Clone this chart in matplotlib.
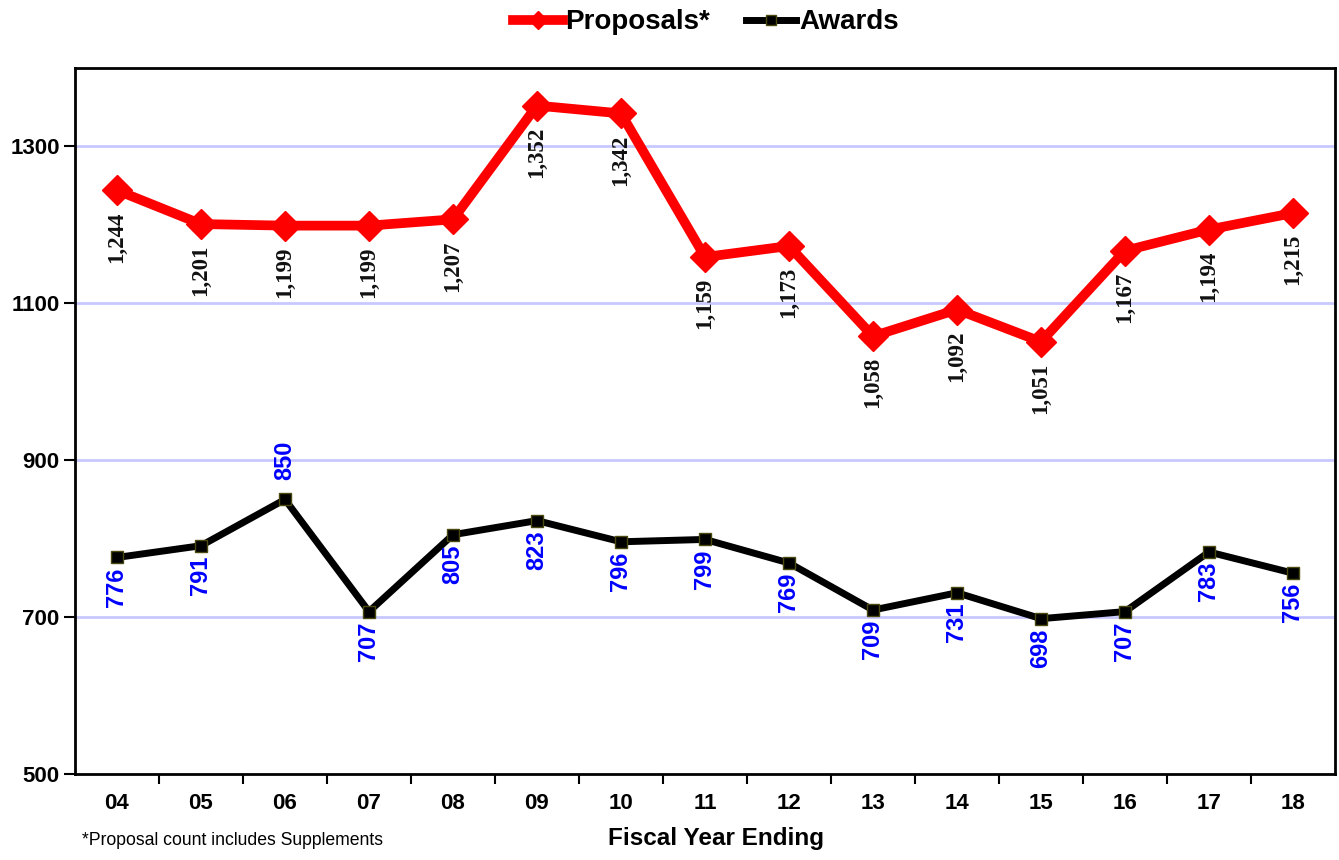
import matplotlib.pyplot as plt
from matplotlib.lines import Line2D

# data
years = ['04', '05', '06', '07', '08', '09', '10', '11', '12', '13', '14', '15', '16', '17', '18']
proposals = [1244, 1201, 1199, 1199, 1207, 1352, 1342, 1159, 1173, 1058, 1092, 1051, 1167, 1194, 1215]
awards = [776, 791, 850, 707, 805, 823, 796, 799, 769, 709, 731, 698, 707, 783, 756]

fig = plt.figure(figsize=(13.39, 8.6), dpi=100)
ax = fig.add_axes([0.056, 0.1, 0.941, 0.821])

x = list(range(len(years)))

for y in [700, 900, 1100, 1300]:
    ax.axhline(y, color='#c8c8ff', lw=2, zorder=0)

ax.plot(x, proposals, color='red', lw=7, marker='D', markersize=15, zorder=3)
ax.plot(x, awards, color='black', lw=5, marker='s', markersize=8,
        markerfacecolor='black', markeredgecolor='#4a4a10', zorder=3)

# data labels, rotated like the original
for i, v in enumerate(proposals):
    ax.annotate(f'{v:,}', (i, v), xytext=(0, -15), textcoords='offset points',
                rotation=90, ha='center', va='top', fontsize=16.5,
                family='Liberation Serif', fontweight='bold', color='#111111')
for i, v in enumerate(awards):
    if v == 850:
        off, va = 14, 'bottom'
    else:
        off, va = -7, 'top'
    ax.annotate(f'{v}', (i, v), xytext=(0, off), textcoords='offset points',
                rotation=90, ha='center', va=va, fontsize=17,
                family='Liberation Sans', fontweight='bold', color='blue')

ax.set_xlim(-0.5, len(years) - 0.5)
ax.set_ylim(500, 1400)
ax.set_yticks([500, 700, 900, 1100, 1300])
ax.set_xticks(x)
ax.set_xticklabels(years)
ax.set_xticks([i + 0.5 for i in x[:-1]], minor=True)
ax.tick_params(axis='x', which='major', length=0, pad=14)
ax.tick_params(axis='x', which='minor', length=7, width=1.5, direction='out')
ax.tick_params(axis='y', length=8, width=1.5, direction='out', pad=3)
for lab in ax.get_xticklabels() + ax.get_yticklabels():
    lab.set_family('Liberation Sans')
    lab.set_fontweight('bold')
    lab.set_fontsize(16)
for s in ax.spines.values():
    s.set_linewidth(2)

fig.text(0.535, 0.017, 'Fiscal Year Ending', ha='center', family='Liberation Sans',
         fontweight='bold', fontsize=17.5)
fig.text(0.061, 0.017, '*Proposal count includes Supplements',
         family='Liberation Sans', fontsize=12.7)

handles = [
    Line2D([], [], color='red', lw=7, marker='D', markersize=9),
    Line2D([], [], color='black', lw=5, marker='s', markersize=7,
           markerfacecolor='black', markeredgecolor='#4a4a10'),
]
fig.legend(handles, ['Proposals*', 'Awards'], loc='center',
           bbox_to_anchor=(0.527, 0.974), ncol=2, frameon=False,
           prop={'family': 'Liberation Sans', 'weight': 'bold', 'size': 20},
           handlelength=1.8, handletextpad=0.1, columnspacing=1.3)

fig.savefig('out.png', dpi=100)
